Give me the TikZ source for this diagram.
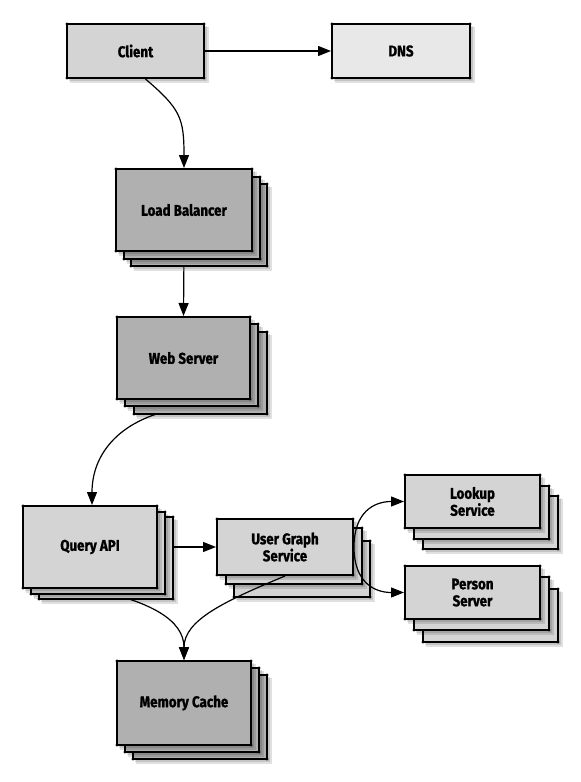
\documentclass[tikz,border=0pt]{standalone}
\usepackage{fontspec}
\newfontfamily\labfont[FakeStretch=0.86,FakeBold=1.2]{Fira Sans}
\usetikzlibrary{arrows.meta}
\definecolor{lite}{HTML}{D4D4D4}
\definecolor{dnsfill}{HTML}{E8E8E8}
\definecolor{dark}{HTML}{B0B0B0}
\pgfdeclarelayer{back}
\pgfdeclarelayer{bg}
\pgfsetlayers{back,bg,main}
\tikzset{
  card/.style={draw=black, line width=2pt},
  shade1/.style={fill=black, opacity=0.12},
  lbl/.style={font=\labfont\bfseries\fontsize{15.5}{17}\selectfont, align=center, inner sep=0pt, outer sep=1pt},
  arr/.style={line width=1.2pt, -{Triangle[length=13pt,width=10pt]}},
}
\newcommand\sheet[5]{%
  \fill[shade1] (#1+1.5,#2+1.5) rectangle (#3+3,#4+3);
  \fill[shade1] (#1+2.5,#2+2.5) rectangle (#3+4.5,#4+4.5);
  \path[card,fill=#5] (#1,#2) rectangle (#3,#4);
  \foreach \cx/\cy in {#1/#2,#3/#2,#1/#4,#3/#4} \fill (\cx,\cy) circle[radius=1.7pt];
}
\newcommand\pile[9]{%
  \sheet{#1+#8}{#2+#9}{#3+#8}{#4+#9}{#5}
  \sheet{#1+#6}{#2+#7}{#3+#6}{#4+#7}{#5}
  \sheet{#1}{#2}{#3}{#4}{#5}}
\begin{document}
\begin{tikzpicture}[x=1pt,y=-1pt]
\begin{pgfonlayer}{back}
\fill[white] (0,0) rectangle (581,782);
\end{pgfonlayer}
\useasboundingbox (0,0) rectangle (581,782);

% cards
\sheet{67}{24}{204}{78}{lite}
\sheet{332}{24}{470}{78}{dnsfill}
\pile{116}{169}{252}{251}{dark}{8}{8}{15}{15}
\pile{117}{317}{250}{399}{dark}{8}{7}{17}{15}
\pile{23}{506}{157}{588}{lite}{8}{6}{16}{11}
\pile{217}{519}{353}{575}{lite}{9}{9}{17}{22}
\pile{405}{475}{540}{528}{lite}{9}{11}{18}{21}
\pile{405}{566}{540}{619}{lite}{9}{11}{18}{23}
\pile{117}{661}{251}{745}{dark}{8}{7}{16}{14}

% labels / named nodes
\node[lbl, minimum width=137pt, minimum height=54pt] (client) at (135.5,51) {Client};
\node[lbl, minimum width=138pt, minimum height=54pt] (dns) at (401,51) {DNS};
\node[lbl, minimum width=136pt, minimum height=82pt] (lb) at (184,210) {Load Balancer};
\node[lbl, minimum width=133pt, minimum height=82pt] (ws) at (183.5,358) {Web Server};
\node[lbl, minimum width=134pt, minimum height=82pt] (qa) at (90,547) {Query API};
\node[lbl, minimum width=136pt, minimum height=56pt] (ug) at (285,547) {User Graph\\Service};
\node[lbl, minimum width=135pt, minimum height=53pt] (lu) at (472.5,501.5) {Lookup\\Service};
\node[lbl, minimum width=135pt, minimum height=53pt] (ps) at (472.5,592.5) {Person\\Server};
\node[lbl, minimum width=134pt, minimum height=84pt] (mc) at (184,703) {Memory Cache};

% connectors hidden under cards
\begin{pgfonlayer}{bg}
\draw[arr] (client.east) -- (dns.west);
\draw[arr] ([xshift=10pt]client.south) .. controls +(35,30) and +(0,-50) .. (lb.north);
\draw[arr] (lb.south) -- (ws.north);
\draw[arr] ([xshift=-27pt,yshift=-14pt]ws.south) .. controls +(-45,15) and +(0,-45) .. ([xshift=2pt]qa.north);
\draw[arr] (qa.east) -- (ug.west);
\draw[arr] (qa.south) .. controls +(60,12) and +(0,-40) .. (mc.north);
\end{pgfonlayer}

% connectors over cards
\draw[arr] (ug.south) .. controls +(-60,25) and +(0,-40) .. (mc.north);
\draw[arr] (ug.east) .. controls +(0,-35) and +(-30,0) .. (lu.west);
\draw[arr] (ug.east) .. controls +(0,35) and +(-30,0) .. (ps.west);
\end{tikzpicture}
\end{document}
